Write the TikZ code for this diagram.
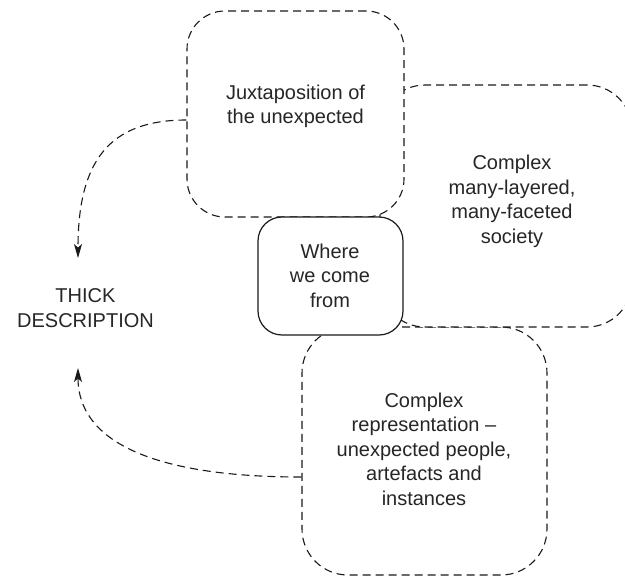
\documentclass[tikz,border=0pt]{standalone}
\usepackage{fontspec}
\setmainfont{Liberation Sans}
\usetikzlibrary{arrows.meta}
\definecolor{ink}{HTML}{1A1A1A}
\definecolor{txt}{HTML}{262626}
\begin{document}
\begin{tikzpicture}[x=1pt,y=-1pt,
  dline/.style={draw=ink, line width=1.1pt, dash pattern=on 8pt off 5pt},
  cloud/.style={dline, fill=white, rectangle, inner sep=0pt},
  hub/.style={draw=ink, line width=1.2pt, fill=white, rectangle, rounded corners=24pt,
              inner sep=0pt, minimum width=145pt, minimum height=118pt},
  lbl/.style={align=center, text=txt, font=\fontsize{20}{24.5}\selectfont, inner sep=0pt},
  tip/.style={-{Stealth[length=14pt,width=8pt,inset=3.5pt]}}
]
\useasboundingbox (0,0) rectangle (625,576);

% overlapping dashed areas, back to front
\node[cloud, rounded corners=46pt, minimum width=245pt, minimum height=248pt] (rep) at (424.5,451) {};
\node[cloud, rounded corners=45pt, minimum width=252pt, minimum height=242pt] (soc) at (506,206) {};
\node[cloud, rounded corners=38pt, minimum width=217pt, minimum height=206pt] (jux) at (295.5,114) {};
\node[hub] (where) at (330.5,276) {};

% labels
\node[lbl] (juxtext) at (295.5,106.5) {Juxtaposition of\\the unexpected};
\node[lbl] (soctext) at (512,201.5) {Complex\\many-layered,\\many-faceted\\society};
\node[lbl] (wheretext) at (330,275.5) {Where\\we come\\from};
\node[lbl] (reptext) at (424,449) {Complex\\representation –\\unexpected people,\\artefacts and\\instances};
\node[lbl] (thick) at (85.5,308) {THICK\\DESCRIPTION};

% curved connectors into the thick description
\coordinate (tipA) at (78,258);
\coordinate (tipB) at (78,368);
\draw[dline, tip] ([yshift=-6pt]jux.west) .. controls (110,120) and (78,160) .. (tipA);
\draw[dline, tip] ([yshift=-26pt]rep.west) .. controls (150,477) and (78,440) .. (tipB);
\end{tikzpicture}
\end{document}
